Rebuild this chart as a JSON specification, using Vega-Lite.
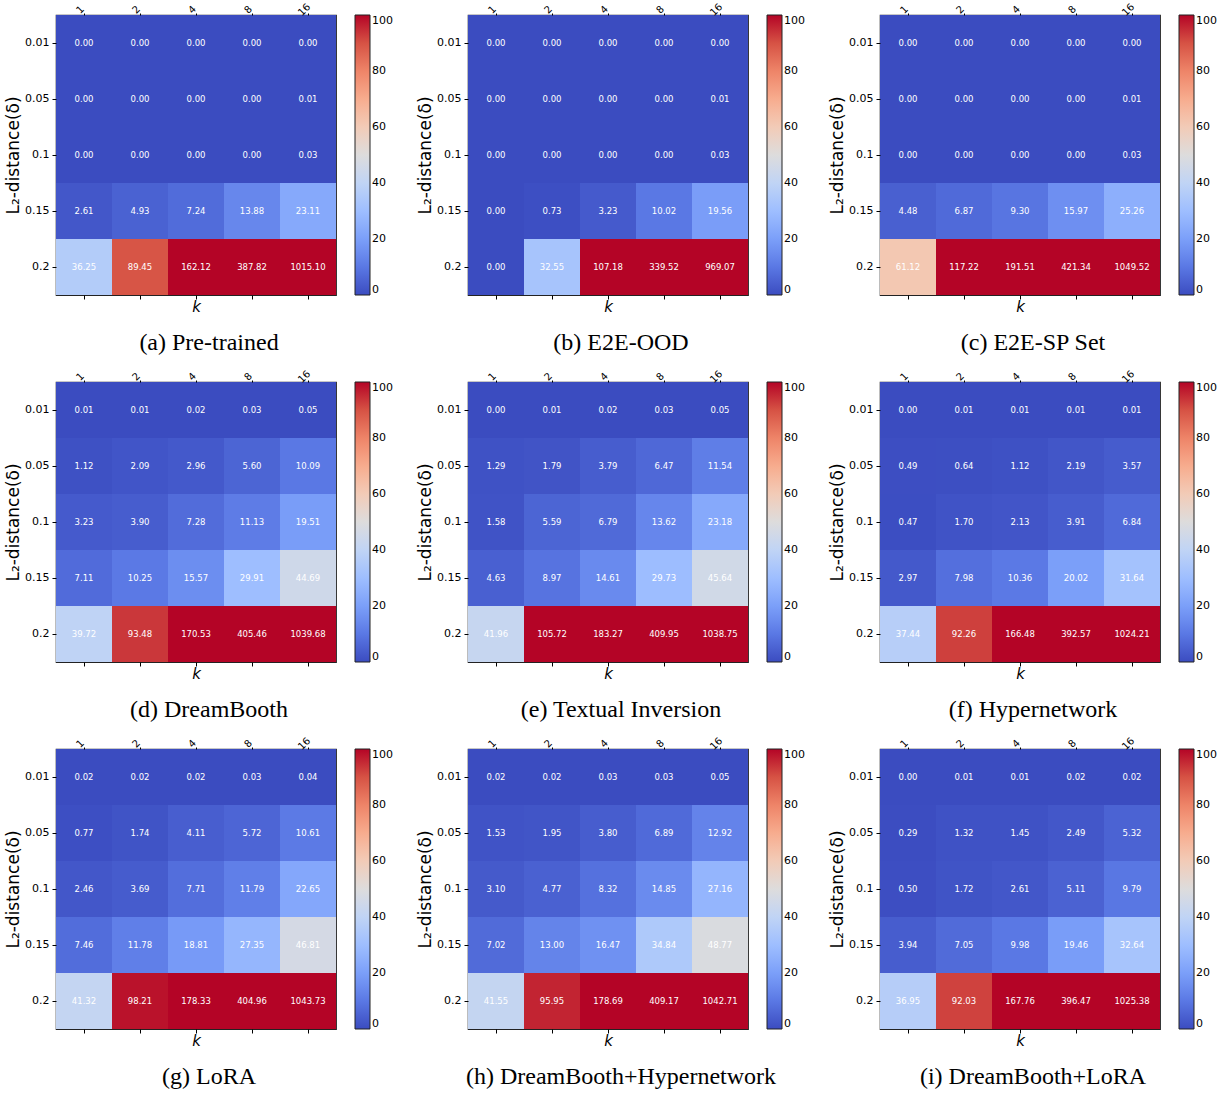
{
"$schema":"https://vega.github.io/schema/vega-lite/v6.json",
"background":"white",
"padding":{"left":3,"top":0,"right":0,"bottom":0},
"datasets":{"h":[
{"p":"a","d":0.01,"k":1,"v":0},{"p":"a","d":0.01,"k":2,"v":0},{"p":"a","d":0.01,"k":4,"v":0},{"p":"a","d":0.01,"k":8,"v":0},{"p":"a","d":0.01,"k":16,"v":0},
{"p":"a","d":0.05,"k":1,"v":0},{"p":"a","d":0.05,"k":2,"v":0},{"p":"a","d":0.05,"k":4,"v":0},{"p":"a","d":0.05,"k":8,"v":0},{"p":"a","d":0.05,"k":16,"v":0.01},
{"p":"a","d":0.1,"k":1,"v":0},{"p":"a","d":0.1,"k":2,"v":0},{"p":"a","d":0.1,"k":4,"v":0},{"p":"a","d":0.1,"k":8,"v":0},{"p":"a","d":0.1,"k":16,"v":0.03},
{"p":"a","d":0.15,"k":1,"v":2.61},{"p":"a","d":0.15,"k":2,"v":4.93},{"p":"a","d":0.15,"k":4,"v":7.24},{"p":"a","d":0.15,"k":8,"v":13.88},{"p":"a","d":0.15,"k":16,"v":23.11},
{"p":"a","d":0.2,"k":1,"v":36.25},{"p":"a","d":0.2,"k":2,"v":89.45},{"p":"a","d":0.2,"k":4,"v":162.12},{"p":"a","d":0.2,"k":8,"v":387.82},{"p":"a","d":0.2,"k":16,"v":1015.10},
{"p":"b","d":0.01,"k":1,"v":0},{"p":"b","d":0.01,"k":2,"v":0},{"p":"b","d":0.01,"k":4,"v":0},{"p":"b","d":0.01,"k":8,"v":0},{"p":"b","d":0.01,"k":16,"v":0},
{"p":"b","d":0.05,"k":1,"v":0},{"p":"b","d":0.05,"k":2,"v":0},{"p":"b","d":0.05,"k":4,"v":0},{"p":"b","d":0.05,"k":8,"v":0},{"p":"b","d":0.05,"k":16,"v":0.01},
{"p":"b","d":0.1,"k":1,"v":0},{"p":"b","d":0.1,"k":2,"v":0},{"p":"b","d":0.1,"k":4,"v":0},{"p":"b","d":0.1,"k":8,"v":0},{"p":"b","d":0.1,"k":16,"v":0.03},
{"p":"b","d":0.15,"k":1,"v":0},{"p":"b","d":0.15,"k":2,"v":0.73},{"p":"b","d":0.15,"k":4,"v":3.23},{"p":"b","d":0.15,"k":8,"v":10.02},{"p":"b","d":0.15,"k":16,"v":19.56},
{"p":"b","d":0.2,"k":1,"v":0},{"p":"b","d":0.2,"k":2,"v":32.55},{"p":"b","d":0.2,"k":4,"v":107.18},{"p":"b","d":0.2,"k":8,"v":339.52},{"p":"b","d":0.2,"k":16,"v":969.07},
{"p":"c","d":0.01,"k":1,"v":0},{"p":"c","d":0.01,"k":2,"v":0},{"p":"c","d":0.01,"k":4,"v":0},{"p":"c","d":0.01,"k":8,"v":0},{"p":"c","d":0.01,"k":16,"v":0},
{"p":"c","d":0.05,"k":1,"v":0},{"p":"c","d":0.05,"k":2,"v":0},{"p":"c","d":0.05,"k":4,"v":0},{"p":"c","d":0.05,"k":8,"v":0},{"p":"c","d":0.05,"k":16,"v":0.01},
{"p":"c","d":0.1,"k":1,"v":0},{"p":"c","d":0.1,"k":2,"v":0},{"p":"c","d":0.1,"k":4,"v":0},{"p":"c","d":0.1,"k":8,"v":0},{"p":"c","d":0.1,"k":16,"v":0.03},
{"p":"c","d":0.15,"k":1,"v":4.48},{"p":"c","d":0.15,"k":2,"v":6.87},{"p":"c","d":0.15,"k":4,"v":9.30},{"p":"c","d":0.15,"k":8,"v":15.97},{"p":"c","d":0.15,"k":16,"v":25.26},
{"p":"c","d":0.2,"k":1,"v":61.12},{"p":"c","d":0.2,"k":2,"v":117.22},{"p":"c","d":0.2,"k":4,"v":191.51},{"p":"c","d":0.2,"k":8,"v":421.34},{"p":"c","d":0.2,"k":16,"v":1049.52},
{"p":"d","d":0.01,"k":1,"v":0.01},{"p":"d","d":0.01,"k":2,"v":0.01},{"p":"d","d":0.01,"k":4,"v":0.02},{"p":"d","d":0.01,"k":8,"v":0.03},{"p":"d","d":0.01,"k":16,"v":0.05},
{"p":"d","d":0.05,"k":1,"v":1.12},{"p":"d","d":0.05,"k":2,"v":2.09},{"p":"d","d":0.05,"k":4,"v":2.96},{"p":"d","d":0.05,"k":8,"v":5.60},{"p":"d","d":0.05,"k":16,"v":10.09},
{"p":"d","d":0.1,"k":1,"v":3.23},{"p":"d","d":0.1,"k":2,"v":3.90},{"p":"d","d":0.1,"k":4,"v":7.28},{"p":"d","d":0.1,"k":8,"v":11.13},{"p":"d","d":0.1,"k":16,"v":19.51},
{"p":"d","d":0.15,"k":1,"v":7.11},{"p":"d","d":0.15,"k":2,"v":10.25},{"p":"d","d":0.15,"k":4,"v":15.57},{"p":"d","d":0.15,"k":8,"v":29.91},{"p":"d","d":0.15,"k":16,"v":44.69},
{"p":"d","d":0.2,"k":1,"v":39.72},{"p":"d","d":0.2,"k":2,"v":93.48},{"p":"d","d":0.2,"k":4,"v":170.53},{"p":"d","d":0.2,"k":8,"v":405.46},{"p":"d","d":0.2,"k":16,"v":1039.68},
{"p":"e","d":0.01,"k":1,"v":0},{"p":"e","d":0.01,"k":2,"v":0.01},{"p":"e","d":0.01,"k":4,"v":0.02},{"p":"e","d":0.01,"k":8,"v":0.03},{"p":"e","d":0.01,"k":16,"v":0.05},
{"p":"e","d":0.05,"k":1,"v":1.29},{"p":"e","d":0.05,"k":2,"v":1.79},{"p":"e","d":0.05,"k":4,"v":3.79},{"p":"e","d":0.05,"k":8,"v":6.47},{"p":"e","d":0.05,"k":16,"v":11.54},
{"p":"e","d":0.1,"k":1,"v":1.58},{"p":"e","d":0.1,"k":2,"v":5.59},{"p":"e","d":0.1,"k":4,"v":6.79},{"p":"e","d":0.1,"k":8,"v":13.62},{"p":"e","d":0.1,"k":16,"v":23.18},
{"p":"e","d":0.15,"k":1,"v":4.63},{"p":"e","d":0.15,"k":2,"v":8.97},{"p":"e","d":0.15,"k":4,"v":14.61},{"p":"e","d":0.15,"k":8,"v":29.73},{"p":"e","d":0.15,"k":16,"v":45.64},
{"p":"e","d":0.2,"k":1,"v":41.96},{"p":"e","d":0.2,"k":2,"v":105.72},{"p":"e","d":0.2,"k":4,"v":183.27},{"p":"e","d":0.2,"k":8,"v":409.95},{"p":"e","d":0.2,"k":16,"v":1038.75},
{"p":"f","d":0.01,"k":1,"v":0},{"p":"f","d":0.01,"k":2,"v":0.01},{"p":"f","d":0.01,"k":4,"v":0.01},{"p":"f","d":0.01,"k":8,"v":0.01},{"p":"f","d":0.01,"k":16,"v":0.01},
{"p":"f","d":0.05,"k":1,"v":0.49},{"p":"f","d":0.05,"k":2,"v":0.64},{"p":"f","d":0.05,"k":4,"v":1.12},{"p":"f","d":0.05,"k":8,"v":2.19},{"p":"f","d":0.05,"k":16,"v":3.57},
{"p":"f","d":0.1,"k":1,"v":0.47},{"p":"f","d":0.1,"k":2,"v":1.70},{"p":"f","d":0.1,"k":4,"v":2.13},{"p":"f","d":0.1,"k":8,"v":3.91},{"p":"f","d":0.1,"k":16,"v":6.84},
{"p":"f","d":0.15,"k":1,"v":2.97},{"p":"f","d":0.15,"k":2,"v":7.98},{"p":"f","d":0.15,"k":4,"v":10.36},{"p":"f","d":0.15,"k":8,"v":20.02},{"p":"f","d":0.15,"k":16,"v":31.64},
{"p":"f","d":0.2,"k":1,"v":37.44},{"p":"f","d":0.2,"k":2,"v":92.26},{"p":"f","d":0.2,"k":4,"v":166.48},{"p":"f","d":0.2,"k":8,"v":392.57},{"p":"f","d":0.2,"k":16,"v":1024.21},
{"p":"g","d":0.01,"k":1,"v":0.02},{"p":"g","d":0.01,"k":2,"v":0.02},{"p":"g","d":0.01,"k":4,"v":0.02},{"p":"g","d":0.01,"k":8,"v":0.03},{"p":"g","d":0.01,"k":16,"v":0.04},
{"p":"g","d":0.05,"k":1,"v":0.77},{"p":"g","d":0.05,"k":2,"v":1.74},{"p":"g","d":0.05,"k":4,"v":4.11},{"p":"g","d":0.05,"k":8,"v":5.72},{"p":"g","d":0.05,"k":16,"v":10.61},
{"p":"g","d":0.1,"k":1,"v":2.46},{"p":"g","d":0.1,"k":2,"v":3.69},{"p":"g","d":0.1,"k":4,"v":7.71},{"p":"g","d":0.1,"k":8,"v":11.79},{"p":"g","d":0.1,"k":16,"v":22.65},
{"p":"g","d":0.15,"k":1,"v":7.46},{"p":"g","d":0.15,"k":2,"v":11.78},{"p":"g","d":0.15,"k":4,"v":18.81},{"p":"g","d":0.15,"k":8,"v":27.35},{"p":"g","d":0.15,"k":16,"v":46.81},
{"p":"g","d":0.2,"k":1,"v":41.32},{"p":"g","d":0.2,"k":2,"v":98.21},{"p":"g","d":0.2,"k":4,"v":178.33},{"p":"g","d":0.2,"k":8,"v":404.96},{"p":"g","d":0.2,"k":16,"v":1043.73},
{"p":"h","d":0.01,"k":1,"v":0.02},{"p":"h","d":0.01,"k":2,"v":0.02},{"p":"h","d":0.01,"k":4,"v":0.03},{"p":"h","d":0.01,"k":8,"v":0.03},{"p":"h","d":0.01,"k":16,"v":0.05},
{"p":"h","d":0.05,"k":1,"v":1.53},{"p":"h","d":0.05,"k":2,"v":1.95},{"p":"h","d":0.05,"k":4,"v":3.80},{"p":"h","d":0.05,"k":8,"v":6.89},{"p":"h","d":0.05,"k":16,"v":12.92},
{"p":"h","d":0.1,"k":1,"v":3.10},{"p":"h","d":0.1,"k":2,"v":4.77},{"p":"h","d":0.1,"k":4,"v":8.32},{"p":"h","d":0.1,"k":8,"v":14.85},{"p":"h","d":0.1,"k":16,"v":27.16},
{"p":"h","d":0.15,"k":1,"v":7.02},{"p":"h","d":0.15,"k":2,"v":13.00},{"p":"h","d":0.15,"k":4,"v":16.47},{"p":"h","d":0.15,"k":8,"v":34.84},{"p":"h","d":0.15,"k":16,"v":48.77},
{"p":"h","d":0.2,"k":1,"v":41.55},{"p":"h","d":0.2,"k":2,"v":95.95},{"p":"h","d":0.2,"k":4,"v":178.69},{"p":"h","d":0.2,"k":8,"v":409.17},{"p":"h","d":0.2,"k":16,"v":1042.71},
{"p":"i","d":0.01,"k":1,"v":0},{"p":"i","d":0.01,"k":2,"v":0.01},{"p":"i","d":0.01,"k":4,"v":0.01},{"p":"i","d":0.01,"k":8,"v":0.02},{"p":"i","d":0.01,"k":16,"v":0.02},
{"p":"i","d":0.05,"k":1,"v":0.29},{"p":"i","d":0.05,"k":2,"v":1.32},{"p":"i","d":0.05,"k":4,"v":1.45},{"p":"i","d":0.05,"k":8,"v":2.49},{"p":"i","d":0.05,"k":16,"v":5.32},
{"p":"i","d":0.1,"k":1,"v":0.50},{"p":"i","d":0.1,"k":2,"v":1.72},{"p":"i","d":0.1,"k":4,"v":2.61},{"p":"i","d":0.1,"k":8,"v":5.11},{"p":"i","d":0.1,"k":16,"v":9.79},
{"p":"i","d":0.15,"k":1,"v":3.94},{"p":"i","d":0.15,"k":2,"v":7.05},{"p":"i","d":0.15,"k":4,"v":9.98},{"p":"i","d":0.15,"k":8,"v":19.46},{"p":"i","d":0.15,"k":16,"v":32.64},
{"p":"i","d":0.2,"k":1,"v":36.95},{"p":"i","d":0.2,"k":2,"v":92.03},{"p":"i","d":0.2,"k":4,"v":167.76},{"p":"i","d":0.2,"k":8,"v":396.47},{"p":"i","d":0.2,"k":16,"v":1025.38}
]},
"data":{"name":"h"},
"columns":3,
"spacing":{"row":11,"column":21},
"resolve":{"scale":{"color":"independent"}},
"concat":[
{"title":"(a) Pre-trained","width":280,"height":280,"transform":[{"filter":"datum.p==='a'"}],
 "encoding":{"y":{"field":"d","type":"ordinal","title":"L₂-distance(δ)"}},
 "layer":[
  {"mark":"rect","encoding":{"x":{"field":"k","type":"ordinal","axis":{"orient":"top","title":null}},"color":{"field":"v","type":"quantitative","title":null,"scale":{"domain":[0,10,20,30,40,50,60,70,80,90,100],"range":["#3b4cc0","#5a78e4","#7b9ff9","#9ebeff","#c0d4f5","#dddcdc","#f2cbb7","#f7ac8e","#ee8468","#d65244","#b40426"],"clamp":true,"interpolate":"rgb"},"legend":{"values":[0,20,40,60,80,100]}}}},
  {"mark":{"type":"text","color":"white","fontSize":8.5,"font":"DejaVu Sans"},"encoding":{"x":{"field":"k","type":"ordinal","axis":{"orient":"bottom","labels":false,"title":"k"}},"text":{"field":"v","type":"quantitative","format":".2f"}}}
 ],"resolve":{"axis":{"x":"independent"}}},
{"title":"(b) E2E-OOD","width":280,"height":280,"transform":[{"filter":"datum.p==='b'"}],
 "encoding":{"y":{"field":"d","type":"ordinal","title":"L₂-distance(δ)"}},
 "layer":[
  {"mark":"rect","encoding":{"x":{"field":"k","type":"ordinal","axis":{"orient":"top","title":null}},"color":{"field":"v","type":"quantitative","title":null,"scale":{"domain":[0,10,20,30,40,50,60,70,80,90,100],"range":["#3b4cc0","#5a78e4","#7b9ff9","#9ebeff","#c0d4f5","#dddcdc","#f2cbb7","#f7ac8e","#ee8468","#d65244","#b40426"],"clamp":true,"interpolate":"rgb"},"legend":{"values":[0,20,40,60,80,100]}}}},
  {"mark":{"type":"text","color":"white","fontSize":8.5,"font":"DejaVu Sans"},"encoding":{"x":{"field":"k","type":"ordinal","axis":{"orient":"bottom","labels":false,"title":"k"}},"text":{"field":"v","type":"quantitative","format":".2f"}}}
 ],"resolve":{"axis":{"x":"independent"}}},
{"title":"(c) E2E-SP Set","width":280,"height":280,"transform":[{"filter":"datum.p==='c'"}],
 "encoding":{"y":{"field":"d","type":"ordinal","title":"L₂-distance(δ)"}},
 "layer":[
  {"mark":"rect","encoding":{"x":{"field":"k","type":"ordinal","axis":{"orient":"top","title":null}},"color":{"field":"v","type":"quantitative","title":null,"scale":{"domain":[0,10,20,30,40,50,60,70,80,90,100],"range":["#3b4cc0","#5a78e4","#7b9ff9","#9ebeff","#c0d4f5","#dddcdc","#f2cbb7","#f7ac8e","#ee8468","#d65244","#b40426"],"clamp":true,"interpolate":"rgb"},"legend":{"values":[0,20,40,60,80,100]}}}},
  {"mark":{"type":"text","color":"white","fontSize":8.5,"font":"DejaVu Sans"},"encoding":{"x":{"field":"k","type":"ordinal","axis":{"orient":"bottom","labels":false,"title":"k"}},"text":{"field":"v","type":"quantitative","format":".2f"}}}
 ],"resolve":{"axis":{"x":"independent"}}},
{"title":"(d) DreamBooth","width":280,"height":280,"transform":[{"filter":"datum.p==='d'"}],
 "encoding":{"y":{"field":"d","type":"ordinal","title":"L₂-distance(δ)"}},
 "layer":[
  {"mark":"rect","encoding":{"x":{"field":"k","type":"ordinal","axis":{"orient":"top","title":null}},"color":{"field":"v","type":"quantitative","title":null,"scale":{"domain":[0,10,20,30,40,50,60,70,80,90,100],"range":["#3b4cc0","#5a78e4","#7b9ff9","#9ebeff","#c0d4f5","#dddcdc","#f2cbb7","#f7ac8e","#ee8468","#d65244","#b40426"],"clamp":true,"interpolate":"rgb"},"legend":{"values":[0,20,40,60,80,100]}}}},
  {"mark":{"type":"text","color":"white","fontSize":8.5,"font":"DejaVu Sans"},"encoding":{"x":{"field":"k","type":"ordinal","axis":{"orient":"bottom","labels":false,"title":"k"}},"text":{"field":"v","type":"quantitative","format":".2f"}}}
 ],"resolve":{"axis":{"x":"independent"}}},
{"title":"(e) Textual Inversion","width":280,"height":280,"transform":[{"filter":"datum.p==='e'"}],
 "encoding":{"y":{"field":"d","type":"ordinal","title":"L₂-distance(δ)"}},
 "layer":[
  {"mark":"rect","encoding":{"x":{"field":"k","type":"ordinal","axis":{"orient":"top","title":null}},"color":{"field":"v","type":"quantitative","title":null,"scale":{"domain":[0,10,20,30,40,50,60,70,80,90,100],"range":["#3b4cc0","#5a78e4","#7b9ff9","#9ebeff","#c0d4f5","#dddcdc","#f2cbb7","#f7ac8e","#ee8468","#d65244","#b40426"],"clamp":true,"interpolate":"rgb"},"legend":{"values":[0,20,40,60,80,100]}}}},
  {"mark":{"type":"text","color":"white","fontSize":8.5,"font":"DejaVu Sans"},"encoding":{"x":{"field":"k","type":"ordinal","axis":{"orient":"bottom","labels":false,"title":"k"}},"text":{"field":"v","type":"quantitative","format":".2f"}}}
 ],"resolve":{"axis":{"x":"independent"}}},
{"title":"(f) Hypernetwork","width":280,"height":280,"transform":[{"filter":"datum.p==='f'"}],
 "encoding":{"y":{"field":"d","type":"ordinal","title":"L₂-distance(δ)"}},
 "layer":[
  {"mark":"rect","encoding":{"x":{"field":"k","type":"ordinal","axis":{"orient":"top","title":null}},"color":{"field":"v","type":"quantitative","title":null,"scale":{"domain":[0,10,20,30,40,50,60,70,80,90,100],"range":["#3b4cc0","#5a78e4","#7b9ff9","#9ebeff","#c0d4f5","#dddcdc","#f2cbb7","#f7ac8e","#ee8468","#d65244","#b40426"],"clamp":true,"interpolate":"rgb"},"legend":{"values":[0,20,40,60,80,100]}}}},
  {"mark":{"type":"text","color":"white","fontSize":8.5,"font":"DejaVu Sans"},"encoding":{"x":{"field":"k","type":"ordinal","axis":{"orient":"bottom","labels":false,"title":"k"}},"text":{"field":"v","type":"quantitative","format":".2f"}}}
 ],"resolve":{"axis":{"x":"independent"}}},
{"title":"(g) LoRA","width":280,"height":280,"transform":[{"filter":"datum.p==='g'"}],
 "encoding":{"y":{"field":"d","type":"ordinal","title":"L₂-distance(δ)"}},
 "layer":[
  {"mark":"rect","encoding":{"x":{"field":"k","type":"ordinal","axis":{"orient":"top","title":null}},"color":{"field":"v","type":"quantitative","title":null,"scale":{"domain":[0,10,20,30,40,50,60,70,80,90,100],"range":["#3b4cc0","#5a78e4","#7b9ff9","#9ebeff","#c0d4f5","#dddcdc","#f2cbb7","#f7ac8e","#ee8468","#d65244","#b40426"],"clamp":true,"interpolate":"rgb"},"legend":{"values":[0,20,40,60,80,100]}}}},
  {"mark":{"type":"text","color":"white","fontSize":8.5,"font":"DejaVu Sans"},"encoding":{"x":{"field":"k","type":"ordinal","axis":{"orient":"bottom","labels":false,"title":"k"}},"text":{"field":"v","type":"quantitative","format":".2f"}}}
 ],"resolve":{"axis":{"x":"independent"}}},
{"title":"(h) DreamBooth+Hypernetwork","width":280,"height":280,"transform":[{"filter":"datum.p==='h'"}],
 "encoding":{"y":{"field":"d","type":"ordinal","title":"L₂-distance(δ)"}},
 "layer":[
  {"mark":"rect","encoding":{"x":{"field":"k","type":"ordinal","axis":{"orient":"top","title":null}},"color":{"field":"v","type":"quantitative","title":null,"scale":{"domain":[0,10,20,30,40,50,60,70,80,90,100],"range":["#3b4cc0","#5a78e4","#7b9ff9","#9ebeff","#c0d4f5","#dddcdc","#f2cbb7","#f7ac8e","#ee8468","#d65244","#b40426"],"clamp":true,"interpolate":"rgb"},"legend":{"values":[0,20,40,60,80,100]}}}},
  {"mark":{"type":"text","color":"white","fontSize":8.5,"font":"DejaVu Sans"},"encoding":{"x":{"field":"k","type":"ordinal","axis":{"orient":"bottom","labels":false,"title":"k"}},"text":{"field":"v","type":"quantitative","format":".2f"}}}
 ],"resolve":{"axis":{"x":"independent"}}},
{"title":"(i) DreamBooth+LoRA","width":280,"height":280,"transform":[{"filter":"datum.p==='i'"}],
 "encoding":{"y":{"field":"d","type":"ordinal","title":"L₂-distance(δ)"}},
 "layer":[
  {"mark":"rect","encoding":{"x":{"field":"k","type":"ordinal","axis":{"orient":"top","title":null}},"color":{"field":"v","type":"quantitative","title":null,"scale":{"domain":[0,10,20,30,40,50,60,70,80,90,100],"range":["#3b4cc0","#5a78e4","#7b9ff9","#9ebeff","#c0d4f5","#dddcdc","#f2cbb7","#f7ac8e","#ee8468","#d65244","#b40426"],"clamp":true,"interpolate":"rgb"},"legend":{"values":[0,20,40,60,80,100]}}}},
  {"mark":{"type":"text","color":"white","fontSize":8.5,"font":"DejaVu Sans"},"encoding":{"x":{"field":"k","type":"ordinal","axis":{"orient":"bottom","labels":false,"title":"k"}},"text":{"field":"v","type":"quantitative","format":".2f"}}}
 ],"resolve":{"axis":{"x":"independent"}}}
],
"config":{
 "view":{"stroke":"#222","strokeWidth":1.2},
 "scale":{"bandPaddingInner":0,"bandPaddingOuter":0},
 "axis":{"grid":false,"labelFont":"DejaVu Sans","titleFont":"DejaVu Sans","labelColor":"#000","titleColor":"#000","tickColor":"#000","domainColor":"#222","labelFontSize":11,"titleFontWeight":"normal","tickSize":4},
 "axisTop":{"labelAngle":-45,"labelAlign":"center","labelBaseline":"bottom","labelFontSize":10,"labelPadding":0,"tickSize":2,"domain":false},
 "axisBottom":{"titleFontStyle":"italic","titleFontSize":15,"titlePadding":0,"domain":false},
 "axisLeft":{"titleFontSize":17,"titlePadding":2,"labelPadding":3,"domain":false},
 "legend":{"gradientLength":280,"gradientThickness":15,"labelFont":"DejaVu Sans","labelFontSize":11,"labelColor":"#000","offset":19,"gradientStrokeColor":"#222","gradientStrokeWidth":1,"labelOffset":6},
 "title":{"orient":"bottom","font":"Liberation Serif","fontSize":24,"fontWeight":"normal","color":"#000","offset":16,"anchor":"middle","dx":13}
}
}
